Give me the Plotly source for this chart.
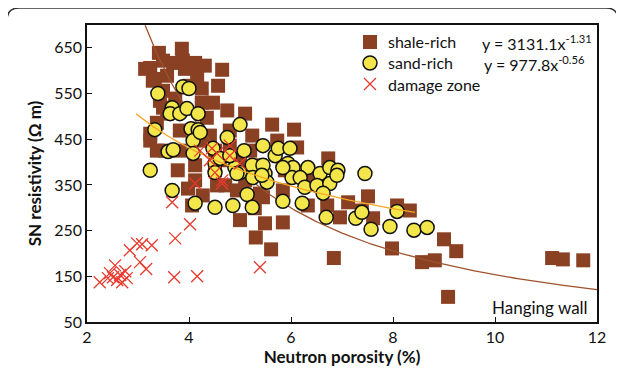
import numpy as np
import plotly.graph_objects as go

# ---- data ----
shale_x = [3.41, 3.86, 3.24, 3.49, 3.69, 3.88, 4.12, 4.31, 4.65, 3.33, 3.57, 4.16, 4.57, 4.25, 3.49,
           4.25, 4.47, 4.75, 5.10, 3.49, 3.37, 3.24, 4.35, 3.92, 4.02, 3.73, 4.41, 3.24, 3.53, 4.22,
           4.51, 4.80, 4.12, 4.51, 5.00, 3.98, 4.06, 5.00, 5.25, 4.71, 3.82, 4.80, 5.49, 5.84, 5.31,
           5.61, 5.29, 5.63, 6.06, 5.73, 6.12, 6.73, 5.24, 5.39, 5.84, 6.33, 6.71, 7.12, 7.51, 7.61,
           6.96, 6.84, 8.08, 8.33, 7.98, 9.00, 9.24, 8.57, 8.82, 9.08, 11.12, 11.33, 11.73, 7.39, 4.27,
           4.55, 4.94, 5.45, 3.82, 4.61, 5.20, 5.39, 5.10, 5.88, 6.37, 3.14, 3.29, 3.43, 3.57, 3.37,
           3.78, 4.12]
shale_y = [639, 648, 606, 622, 617, 622, 617, 611, 602, 582, 589, 589, 567, 561, 556,
           530, 530, 513, 506, 519, 486, 462, 497, 604, 567, 539, 458, 447, 425, 447,
           425, 436, 393, 382, 404, 342, 305, 273, 323, 349, 469, 469, 266, 268, 235,
           209, 299, 482, 471, 447, 432, 408, 458, 331, 338, 305, 305, 312, 325, 277,
           279, 190, 305, 294, 211, 231, 205, 181, 185, 105, 190, 187, 185, 294, 327,
           349, 338, 323, 425, 404, 425, 393, 360, 382, 360, 604, 578, 534, 506, 425,
           382, 360]

sand_x = [3.39, 3.88, 4.00, 3.67, 3.63, 3.82, 3.96, 4.18, 5.00, 3.33, 4.04, 4.18, 4.08, 3.59, 3.69,
          4.08, 4.47, 4.75, 4.51, 4.51, 4.90, 5.00, 5.24, 5.45, 5.69, 5.75, 5.98, 5.94, 6.04, 6.33,
          3.24, 5.25, 5.49, 5.53, 6.02, 6.18, 3.67, 4.12, 4.51, 4.86, 5.14, 5.24, 5.84, 6.22, 5.45,
          5.84, 6.57, 6.76, 6.92, 7.45, 5.43, 6.27, 6.51, 6.76, 6.90, 6.63, 6.69, 7.27, 7.39, 7.57,
          7.94, 8.08, 8.41, 8.67, 4.22, 4.61, 4.94, 4.80, 5.08]
sand_y = [550, 565, 561, 519, 506, 506, 517, 506, 482, 471, 473, 471, 447, 423, 427,
          419, 430, 454, 397, 377, 388, 377, 393, 436, 414, 430, 430, 397, 388, 388,
          382, 366, 375, 356, 366, 366, 338, 310, 301, 305, 329, 301, 314, 310, 393,
          388, 375, 388, 382, 375, 371, 345, 349, 353, 371, 332, 279, 277, 290, 253,
          259, 292, 251, 257, 465, 408, 375, 414, 425]

damage_x = [2.25, 2.41, 2.51, 2.59, 2.65, 2.75, 2.78, 2.69, 2.55, 3.04, 3.16, 2.84, 2.98, 3.08, 3.27,
            3.67, 3.73, 4.02, 3.71, 4.16, 5.39, 4.12, 4.65, 4.22, 4.45, 4.55, 4.80, 4.80, 5.00, 4.51,
            4.65, 4.41, 2.45]
damage_y = [137, 146, 148, 142, 153, 161, 146, 137, 174, 181, 166, 207, 222, 220, 218,
            312, 233, 264, 148, 150, 170, 353, 353, 425, 430, 419, 436, 414, 397, 377,
            360, 404, 157]

# power-law trend lines as drawn (y = a * x^b)
shale_a, shale_b, shale_x0, shale_x1 = 3131.1, -1.31, 3.14, 12.0
sand_a, sand_b, sand_x0, sand_x1 = 901.0, -0.532, 2.96, 8.43

series_labels = ["shale-rich", "sand-rich", "damage zone"]
equations = ["y = 3131.1x<sup>-1.31</sup>", "y = 977.8x<sup>-0.56</sup>"]

x_ticks = [2, 4, 6, 8, 10, 12]
y_ticks = [50, 150, 250, 350, 450, 550, 650]

BROWN = "#8A4123"
YELLOW = "#F2E64A"
RED = "#E8392C"
FONT = "Lato"
TXT = "#111111"

# page body margin offset (screen px = layout px + OFF)
OFF = 8
# plot area in screen pixels
L, R, T, B = 87, 597, 25, 322
W, H = R - L, B - T


def px2paper(px, py):
    return (px - L) / W, (B - py) / H


fig = go.Figure()

SQ = dict(symbol="square", size=14, color=BROWN, line=dict(width=0))
CI = dict(symbol="circle", size=14, color=YELLOW, line=dict(width=1.5, color=TXT))
XX = dict(symbol="x-thin", size=12, color=RED, line=dict(width=1.3, color=RED))

fig.add_trace(go.Scatter(x=shale_x, y=shale_y, mode="markers", marker=SQ, showlegend=False))
sx = np.linspace(shale_x0, shale_x1, 200)
fig.add_trace(go.Scatter(x=sx, y=shale_a * sx ** shale_b, mode="lines", showlegend=False,
                         line=dict(color="#A0522D", width=1.3), hoverinfo="skip"))
fig.add_trace(go.Scatter(x=sand_x, y=sand_y, mode="markers", marker=CI, showlegend=False))
gx = np.linspace(sand_x0, sand_x1, 200)
fig.add_trace(go.Scatter(x=gx, y=sand_a * gx ** sand_b, mode="lines", showlegend=False,
                         line=dict(color="#F5A623", width=1.3), hoverinfo="skip"))
fig.add_trace(go.Scatter(x=damage_x, y=damage_y, mode="markers", marker=XX, showlegend=False))

# custom legend on an overlay axis (0..1 = plot area)
leg_rows = [42, 63, 84]
for mk, row, lab in zip([SQ, CI, XX], leg_rows, series_labels):
    lx, ly = px2paper(370, row)
    fig.add_trace(go.Scatter(x=[lx], y=[ly], mode="markers", marker=mk, xaxis="x2", yaxis="y2",
                             showlegend=False, hoverinfo="skip"))
    tx, ty = px2paper(386, row)
    fig.add_annotation(text=lab, xref="paper", yref="paper", x=tx, y=ty, xanchor="left",
                       yanchor="middle", showarrow=False, font=dict(family=FONT, size=16, color=TXT))

for eq, (ex, row) in zip(equations, [(480, 43), (482, 64)]):
    a, b = px2paper(ex, row)
    fig.add_annotation(text=eq, xref="paper", yref="paper", x=a, y=b, xanchor="left",
                       yanchor="middle", showarrow=False, font=dict(family=FONT, size=16, color=TXT))

a, b = px2paper(590, 307)
fig.add_annotation(text="Hanging wall", xref="paper", yref="paper", x=a, y=b, xanchor="right",
                   yanchor="middle", showarrow=False, font=dict(family=FONT, size=17, color=TXT))

# rounded outer frame
x0p, y0p, x1p, y1p, r = 7, 8, 618, 400, 12


def P(px, py):
    u, v = px2paper(px, py)
    return f"{u:.5f},{v:.5f}"


path = (f"M {P(x0p, y1p)} L {P(x0p, y0p + r)} Q {P(x0p, y0p)} {P(x0p + r, y0p)} "
        f"L {P(x1p - r, y0p)} Q {P(x1p, y0p)} {P(x1p, y0p + r)} L {P(x1p, y1p)}")
fig.add_shape(type="path", path=path, xref="paper", yref="paper",
              line=dict(color="#333333", width=1.5), layer="below")

axis_common = dict(ticks="inside", ticklen=5, tickwidth=1.2, tickcolor=TXT, showline=True,
                   linecolor=TXT, linewidth=1.5, mirror=True, showgrid=False, zeroline=False,
                   tickfont=dict(family=FONT, size=16, color=TXT))

fig.update_layout(
    width=624, height=375,
    margin=dict(l=L - OFF, r=624 - R + OFF, t=T - OFF, b=375 - B + OFF, autoexpand=False),
    paper_bgcolor="white", plot_bgcolor="white",
    font=dict(family=FONT, size=16, color=TXT),
    showlegend=False,
    xaxis=dict(range=[2, 12], tickvals=x_ticks, **axis_common,
               title=dict(text="<b>Neutron porosity (%)</b>", font=dict(family=FONT, size=17),
                          standoff=6)),
    yaxis=dict(range=[50, 700], tickvals=y_ticks, **axis_common,
               title=dict(text="<b>SN resistivity (Ω m)</b>", font=dict(family=FONT, size=17),
                          standoff=8)),
    xaxis2=dict(range=[0, 1], overlaying="x", visible=False, fixedrange=True),
    yaxis2=dict(range=[0, 1], overlaying="y", visible=False, fixedrange=True),
)

fig.write_html("out.html")
